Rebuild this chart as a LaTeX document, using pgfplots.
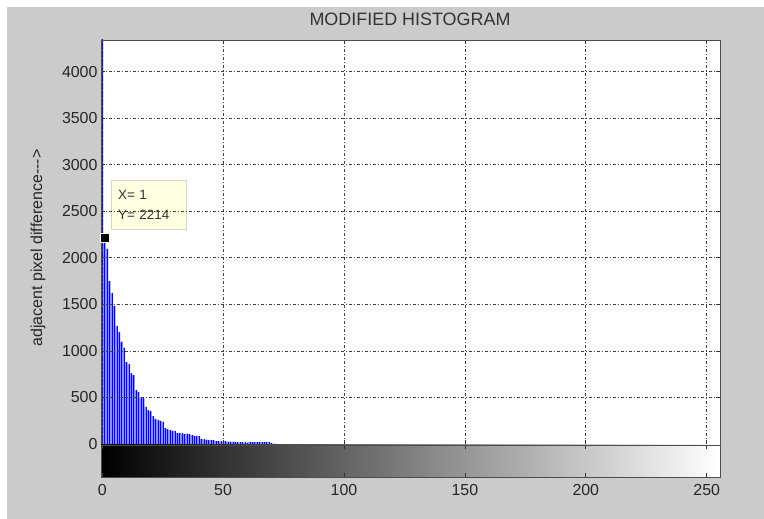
\documentclass[border=0pt]{standalone}
\usepackage{pgfplots}
\pgfplotsset{compat=1.18}
\usepackage{fontspec}
\setmainfont{Liberation Sans}
\definecolor{figbg}{RGB}{203,203,203}
\definecolor{barlight}{RGB}{140,140,255}
\definecolor{tipfill}{RGB}{255,255,225}
\definecolor{tipdraw}{RGB}{215,215,190}

\pgfplotstableread{
x y
0 6000
1 2214
2 2100
3 1750
4 1620
5 1480
6 1270
7 1200
8 1100
9 1035
10 880
11 860
12 760
13 740
14 580
15 560
16 500
17 490
18 400
19 360
20 350
21 300
22 270
23 260
24 250
25 240
26 170
27 160
28 150
29 145
30 140
31 120
32 118
33 115
34 110
35 112
36 105
37 95
38 90
39 88
40 85
41 55
42 50
43 48
44 45
45 44
46 42
47 32
48 30
49 28
50 28
51 27
52 26
53 26
54 25
55 25
56 18
57 18
58 17
59 18
60 16
61 22
62 21
63 22
64 20
65 22
66 21
67 20
68 22
69 20
70 6
71 4
72 2
}\histdata

\begin{document}
\begin{tikzpicture}
\useasboundingbox (0,0) rectangle (764bp,519bp);
\fill[white] (0,0) rectangle (764bp,519bp);
\fill[figbg] (7bp,0) rectangle (764bp,512bp);

% main histogram axis
\begin{axis}[
  at={(101bp,75bp)}, anchor=south west,
  width=619bp, height=404bp, scale only axis,
  xmin=-0.5, xmax=255.5, ymin=0, ymax=4340,
  axis background/.style={fill=white},
  axis on top,
  axis line style={draw=black!70, line width=0.9bp},
  xtick={0,50,...,250}, xticklabels={},
  ytick={0,500,...,4000},
  tick align=inside, xtick pos=both, ytick pos=both,
  major tick length=4bp,
  tick style={black!80, line width=0.8bp},
  xmajorgrids, ymajorgrids,
  major grid style={black!75, line width=0.7bp, dash pattern=on 3bp off 2bp on 1bp off 2bp},
  /pgf/number format/1000 sep={},
  /pgf/number format/assume math mode=true,
  yticklabel style={font=\fontsize{16}{16}\selectfont, text=black!85},
]
\addplot[ybar, bar width=1, bar shift=0, fill=barlight, draw=none] table[x=x,y=y] {\histdata};
\addplot[ycomb, blue, line width=0.3bp] table[x=x,y=y] {\histdata};
\addplot[only marks, mark=square*, mark size=4.5bp, mark options={fill=black, draw=tipfill, line width=1bp}] coordinates {(1,2214)};
\node[anchor=south west, xshift=6bp, yshift=8bp, fill=tipfill, draw=tipdraw, line width=1bp,
      align=left, font=\fontsize{13.5}{20}\selectfont, text=black!80,
      text width=61bp, inner xsep=7bp, inner ysep=8bp, minimum height=49bp]
  at (axis cs:1,2214) {X= 1\\Y= 2214};
\end{axis}

% colorbar axis
\begin{axis}[
  at={(101bp,42bp)}, anchor=south west,
  width=619bp, height=32bp, scale only axis,
  xmin=-0.5, xmax=255.5, ymin=0, ymax=1,
  axis on top,
  axis line style={draw=black!70, line width=0.9bp},
  xtick={0,50,...,250}, ytick=\empty,
  tick align=inside, xtick pos=both,
  major tick length=4bp,
  tick style={black!80, line width=0.8bp},
  /pgf/number format/assume math mode=true,
  xticklabel style={font=\fontsize{16}{16}\selectfont, text=black!85, yshift=-4bp},
]
\fill[left color=black, right color=white] (axis cs:-0.5,0) rectangle (axis cs:255.5,1);
\end{axis}

\node[font=\fontsize{18}{18}\selectfont, text=black!80] at (410bp,499.5bp) {MODIFIED HISTOGRAM};
\node[rotate=90, font=\fontsize{16}{16}\selectfont, text=black!85] at (38bp,271bp) {adjacent pixel difference-{}-{}->};
\end{tikzpicture}
\end{document}
